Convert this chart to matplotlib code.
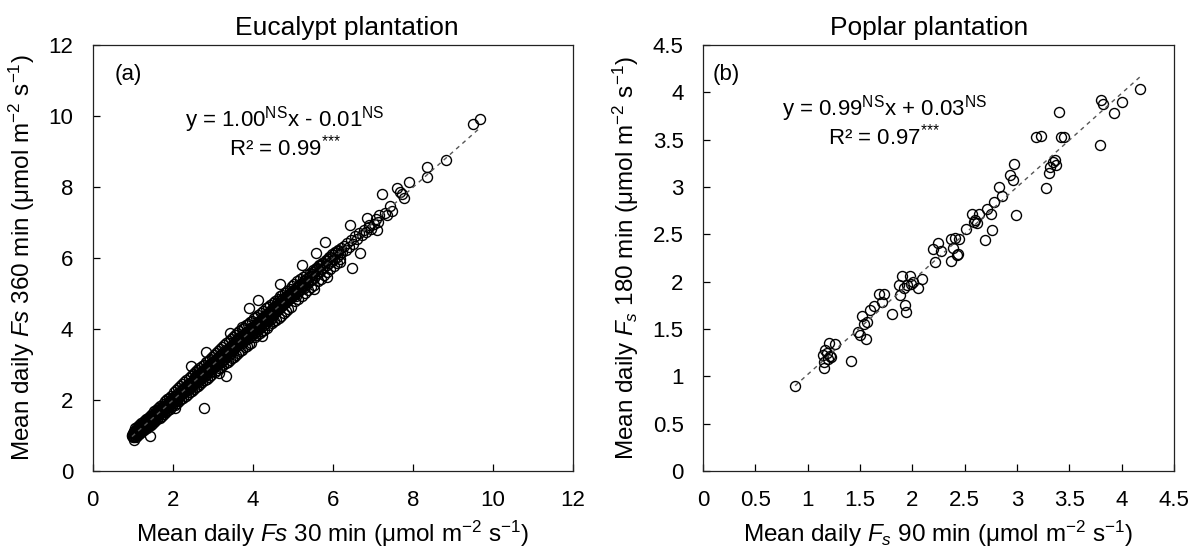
import matplotlib
matplotlib.use("Agg")
import matplotlib.pyplot as plt
import numpy as np
from matplotlib.ticker import FuncFormatter, MultipleLocator

plt.rcParams["font.family"] = ["Liberation Sans", "DejaVu Sans"]
plt.rcParams["mathtext.fontset"] = "custom"
plt.rcParams["mathtext.rm"] = "Liberation Sans"
plt.rcParams["mathtext.it"] = "Liberation Sans:italic"
plt.rcParams["mathtext.bf"] = "Liberation Sans:bold"

# Eucalypt plantation: mean daily Fs, 30 min (x) vs 360 min (y)
eu_x = [
    0.98, 1.00, 1.01, 1.02, 1.03, 1.04, 1.05, 1.06, 1.07, 1.08,
    1.09, 1.10, 1.11, 1.12, 1.13, 1.14, 1.15, 1.16, 1.17, 1.18,
    1.19, 1.20, 1.21, 1.22, 1.23, 1.24, 1.25, 1.26, 1.27, 1.28,
    1.29, 1.30, 1.31, 1.32, 1.33, 1.34, 1.35, 1.36, 1.37, 1.38,
    1.39, 1.40, 1.41, 1.42, 1.43, 1.44, 1.45, 1.46, 1.48, 1.49,
    1.50, 1.51, 1.52, 1.53, 1.54, 1.55, 1.56, 1.57, 1.58, 1.59,
    1.60, 1.62, 1.63, 1.64, 1.66, 1.67, 1.68, 1.70, 1.71, 1.72,
    1.74, 1.75, 1.77, 1.78, 1.80, 1.81, 1.83, 1.84, 1.86, 1.88,
    1.89, 1.91, 1.92, 1.94, 1.96, 1.97, 1.99, 2.01, 2.03, 2.05,
    2.07, 2.09, 2.11, 2.13, 2.15, 2.17, 2.19, 2.21, 2.24, 2.26,
    2.28, 2.30, 2.33, 2.35, 2.37, 2.40, 2.42, 2.44, 2.47, 2.49,
    2.50, 2.51, 2.53, 2.54, 2.55, 2.57, 2.58, 2.60, 2.61, 2.62,
    2.64, 2.65, 2.67, 2.68, 2.70, 2.71, 2.73, 2.74, 2.76, 2.77,
    2.79, 2.80, 2.82, 2.83, 2.85, 2.86, 2.88, 2.89, 2.91, 2.92,
    2.94, 2.95, 2.97, 2.98, 3.00, 3.01, 3.03, 3.04, 3.06, 3.07,
    3.09, 3.10, 3.12, 3.13, 3.15, 3.16, 3.18, 3.19, 3.21, 3.22,
    3.24, 3.25, 3.27, 3.28, 3.30, 3.31, 3.33, 3.34, 3.36, 3.37,
    3.39, 3.40, 3.42, 3.43, 3.45, 3.46, 3.47, 3.48, 3.49, 3.50,
    3.51, 3.52, 3.54, 3.55, 3.57, 3.58, 3.60, 3.61, 3.63, 3.64,
    3.66, 3.67, 3.69, 3.70, 3.72, 3.73, 3.75, 3.76, 3.78, 3.79,
    3.81, 3.82, 3.84, 3.85, 3.87, 3.88, 3.90, 3.91, 3.93, 3.94,
    3.96, 3.97, 3.99, 4.00, 4.02, 4.03, 4.05, 4.06, 4.08, 4.09,
    4.11, 4.12, 4.14, 4.15, 4.17, 4.18, 4.20, 4.21, 4.23, 4.24,
    4.26, 4.27, 4.29, 4.30, 4.32, 4.33, 4.35, 4.36, 4.38, 4.39,
    4.41, 4.42, 4.44, 4.45, 4.46, 4.47, 4.48, 4.49, 4.50, 4.50,
    4.52, 4.54, 4.55, 4.57, 4.59, 4.60, 4.62, 4.64, 4.66, 4.67,
    4.69, 4.71, 4.73, 4.75, 4.77, 4.79, 4.81, 4.83, 4.85, 4.87,
    4.89, 4.91, 4.93, 4.95, 4.97, 4.99, 5.01, 5.03, 5.05, 5.07,
    5.09, 5.11, 5.13, 5.15, 5.17, 5.19, 5.21, 5.23, 5.25, 5.27,
    5.29, 5.31, 5.33, 5.35, 5.37, 5.40, 5.42, 5.44, 5.47, 5.49,
    5.51, 5.54, 5.56, 5.59, 5.61, 5.64, 5.66, 5.69, 5.71, 5.74,
    5.76, 5.79, 5.82, 5.85, 5.88, 5.91, 5.94, 5.97, 6.00, 6.03,
    6.06, 6.10, 6.13, 6.17, 6.20, 6.24, 6.28, 6.32, 6.36, 6.40,
    6.45, 6.50, 6.55, 6.60, 6.66, 6.72, 6.78, 6.84, 6.90, 6.96,
    7.02, 7.08, 7.14, 7.30, 7.36,
    9.68, 9.51, 8.82, 8.36, 8.36, 7.91, 7.60, 7.72, 7.67, 7.77,
    7.24, 7.48, 7.44, 7.10, 7.15, 6.86, 6.91, 6.43, 6.67, 6.48,
    6.17, 5.81, 5.86, 5.59, 5.23, 5.52, 4.69, 4.49, 4.13, 3.90,
    4.23, 3.74, 3.42, 3.32, 3.16, 2.84, 2.46, 2.78, 2.05, 1.42,
    1.04, 0.98, 1.69,
    1.05, 1.08, 1.11, 1.13, 1.16, 1.19, 1.21, 1.24, 1.27, 1.29,
    1.32, 1.35, 1.37, 1.40, 1.43, 1.45, 1.48, 1.51, 1.53, 1.56,
    1.59, 1.61, 1.64, 1.67, 1.69, 1.72, 1.75, 1.77, 1.80, 1.83,
    1.85, 1.88, 1.91, 1.93, 1.96, 1.99, 1.02, 1.07, 1.12, 1.18,
    1.23, 1.28, 1.34, 1.39, 1.44, 1.50, 1.55, 1.61, 1.66, 1.71,
    2.02, 2.05, 2.08, 2.10, 2.13, 2.16, 2.18, 2.21, 2.24, 2.26,
    2.29, 2.32, 2.34, 2.37, 2.40, 2.42, 2.45, 2.48, 2.50, 2.53,
    2.56, 2.58, 2.61, 2.64, 2.66, 2.69, 2.72, 2.74, 2.77, 2.80,
    2.82, 2.85, 2.88, 2.90, 2.93, 2.96, 2.98, 2.06, 2.14, 2.22,
    2.31, 2.39, 2.47, 2.55, 2.63, 2.71, 2.79, 2.87, 2.95, 2.99,
    3.02, 3.05, 3.08, 3.10, 3.13, 3.16, 3.18, 3.21, 3.24, 3.26,
    3.29, 3.32, 3.34, 3.37, 3.40, 3.42, 3.45, 3.48, 3.50, 3.53,
    3.56, 3.58, 3.61, 3.64, 3.66, 3.69, 3.72, 3.74, 3.77, 3.80,
    3.82, 3.85, 3.88, 3.90, 3.93, 3.96, 3.98, 3.06, 3.14, 3.22,
    3.31, 3.39, 3.47, 3.55, 3.63, 3.71, 3.79, 3.87, 3.95, 3.99,
    4.02, 4.05, 4.08, 4.11, 4.14, 4.17, 4.20, 4.23, 4.26, 4.29,
    4.32, 4.35, 4.38, 4.41, 4.44, 4.47, 4.50, 4.53, 4.56, 4.59,
    4.62, 4.65, 4.68, 4.71, 4.74, 4.77, 4.80, 4.83, 4.86, 4.89,
    4.92, 4.95, 4.98, 4.07, 4.16, 4.25, 4.34, 4.43, 4.52, 4.61,
    4.70, 4.79, 4.88, 4.97, 4.99,
    5.02, 5.06, 5.10, 5.14, 5.18, 5.22, 5.26, 5.30, 5.34, 5.38,
    5.42, 5.46, 5.50, 5.54, 5.58, 5.62, 5.66, 5.70, 5.74, 5.78,
    5.82, 5.86, 5.90, 5.94, 5.98, 6.02, 6.06, 6.10, 6.14, 6.18,
    1.31, 1.38, 1.46, 1.54, 1.62, 1.70, 1.78, 1.86, 1.94, 2.02,
    2.10, 2.18, 2.26, 2.34, 2.42, 2.50, 2.58, 2.66, 2.74, 2.82,
    2.90, 2.98, 3.06, 3.14, 3.22, 3.30, 3.38, 3.46, 3.54, 3.62,
    3.70, 3.78, 3.86, 3.94, 4.02, 4.10, 4.18, 4.26, 4.34, 4.42,
    4.50, 4.58, 4.66, 4.74, 4.82, 4.90, 4.98, 5.06, 5.14, 5.22,
    1.34, 1.42, 1.50, 1.58, 1.66, 1.74, 1.82, 1.90, 1.98, 2.06,
    2.14, 2.22, 2.30, 2.38, 2.46, 2.54, 2.62, 2.70, 2.78, 2.86,
    2.94, 3.02, 3.10, 3.18, 3.26, 3.34, 3.42, 3.50, 3.58, 3.66,
    3.74, 3.82, 3.90, 3.98, 4.06, 4.14, 4.22, 4.30, 4.38, 4.46,
    4.54, 4.62, 4.70, 4.78, 4.86, 4.94, 5.02, 5.10, 5.18, 5.30,
]
eu_y = [
    1.02, 0.97, 1.08, 0.95, 1.05, 1.12, 0.99, 1.10, 1.03, 1.15,
    1.06, 1.01, 1.18, 1.09, 1.14, 1.04, 1.22, 1.11, 1.16, 1.08,
    1.24, 1.13, 1.19, 1.27, 1.17, 1.21, 1.30, 1.18, 1.25, 1.33,
    1.22, 1.36, 1.28, 1.24, 1.39, 1.31, 1.27, 1.42, 1.34, 1.30,
    1.45, 1.36, 1.41, 1.33, 1.48, 1.39, 1.44, 1.52, 1.41, 1.47,
    1.55, 1.46, 1.58, 1.50, 1.62, 1.53, 1.49, 1.60, 1.65, 1.54,
    1.57, 1.68, 1.59, 1.71, 1.62, 1.75, 1.64, 1.67, 1.78, 1.70,
    1.66, 1.81, 1.73, 1.84, 1.76, 1.70, 1.87, 1.79, 1.83, 1.91,
    1.82, 1.95, 1.87, 1.90, 1.99, 1.86, 2.03, 1.96, 2.08, 1.99,
    2.04, 2.12, 2.01, 2.15, 2.09, 2.20, 2.12, 2.16, 2.28, 2.19,
    2.23, 2.35, 2.25, 2.30, 2.42, 2.31, 2.38, 2.48, 2.40, 2.45,
    2.55, 2.42, 2.60, 2.48, 2.66, 2.51, 2.63, 2.57, 2.70, 2.52,
    2.68, 2.60, 2.74, 2.58, 2.65, 2.80, 2.69, 2.62, 2.84, 2.72,
    2.75, 2.68, 2.90, 2.78, 2.81, 2.73, 2.95, 2.84, 2.88, 2.79,
    3.02, 2.90, 2.93, 2.86, 3.08, 2.96, 3.00, 2.92, 3.12, 3.03,
    3.05, 2.98, 3.18, 3.09, 3.11, 3.04, 3.24, 3.14, 3.17, 3.10,
    3.30, 3.20, 3.22, 3.15, 3.36, 3.26, 3.29, 3.21, 3.42, 3.32,
    3.35, 3.27, 3.48, 3.38, 3.40, 3.33, 3.53, 3.44, 3.37, 3.46,
    3.58, 3.44, 3.62, 3.50, 3.66, 3.53, 3.70, 3.56, 3.61, 3.75,
    3.59, 3.72, 3.64, 3.80, 3.68, 3.62, 3.84, 3.70, 3.77, 3.66,
    3.90, 3.75, 3.80, 3.71, 3.95, 3.82, 3.86, 3.76, 4.00, 3.88,
    3.91, 3.83, 4.06, 3.94, 3.97, 3.88, 4.12, 4.00, 4.03, 3.93,
    4.18, 4.06, 4.09, 3.99, 4.24, 4.12, 4.15, 4.05, 4.30, 4.18,
    4.21, 4.10, 4.36, 4.24, 4.27, 4.16, 4.42, 4.30, 4.33, 4.22,
    4.48, 4.36, 4.39, 4.28, 4.54, 4.44, 4.35, 4.50, 4.40, 4.58,
    4.60, 4.45, 4.66, 4.51, 4.58, 4.72, 4.55, 4.68, 4.62, 4.78,
    4.60, 4.74, 4.85, 4.68, 4.80, 4.72, 4.90, 4.76, 4.86, 4.95,
    4.82, 4.98, 4.88, 5.02, 4.92, 5.06, 4.95, 5.10, 5.00, 4.93,
    5.15, 5.04, 5.20, 5.08, 5.12, 5.26, 5.14, 5.30, 5.20, 5.16,
    5.36, 5.24, 5.40, 5.28, 5.32, 5.46, 5.34, 5.50, 5.40, 5.55,
    5.60, 5.44, 5.66, 5.52, 5.72, 5.58, 5.78, 5.63, 5.80, 5.68,
    5.86, 5.74, 5.92, 5.80, 5.98, 5.86, 6.04, 5.92, 6.08, 5.96,
    6.14, 6.02, 6.20, 6.10, 6.28, 6.16, 6.34, 6.22, 6.42, 6.30,
    6.50, 6.40, 6.62, 6.55, 6.70, 6.64, 6.80, 6.74, 6.88, 6.82,
    6.96, 7.10, 7.02, 7.28, 7.22,
    9.92, 9.78, 8.76, 8.56, 8.29, 8.13, 7.97, 7.79, 7.87, 7.70,
    7.80, 7.32, 7.47, 6.78, 7.20, 7.12, 6.92, 6.94, 6.15, 5.73,
    5.88, 6.45, 5.46, 6.13, 5.81, 5.14, 5.26, 4.52, 4.81, 4.59,
    3.80, 4.05, 3.90, 2.68, 2.76, 3.35, 2.96, 1.77, 1.77, 1.00,
    0.87, 0.99, 1.51,
    1.20, 0.96, 1.24, 1.02, 1.30, 1.06, 1.35, 1.12, 1.40, 1.15,
    1.46, 1.22, 1.50, 1.26, 1.56, 1.30, 1.62, 1.36, 1.68, 1.40,
    1.72, 1.46, 1.78, 1.50, 1.84, 1.56, 1.90, 1.60, 1.96, 1.66,
    2.02, 1.72, 2.06, 1.76, 2.12, 1.82, 1.10, 1.14, 1.05, 1.28,
    1.32, 1.20, 1.42, 1.30, 1.52, 1.42, 1.60, 1.55, 1.72, 1.64,
    2.22, 1.86, 2.28, 1.92, 2.34, 1.98, 2.40, 2.02, 2.45, 2.06,
    2.50, 2.12, 2.56, 2.16, 2.62, 2.22, 2.68, 2.26, 2.74, 2.30,
    2.78, 2.36, 2.84, 2.40, 2.90, 2.46, 2.95, 2.50, 3.00, 2.56,
    3.06, 2.60, 3.10, 2.66, 3.16, 2.70, 3.22, 2.08, 2.20, 2.26,
    2.36, 2.44, 2.52, 2.58, 2.66, 2.74, 2.82, 2.88, 2.98, 3.04,
    3.28, 2.80, 3.32, 2.84, 3.38, 2.90, 3.44, 2.94, 3.50, 2.98,
    3.56, 3.04, 3.60, 3.08, 3.66, 3.14, 3.72, 3.18, 3.78, 3.22,
    3.82, 3.28, 3.88, 3.32, 3.94, 3.38, 4.00, 3.42, 4.04, 3.48,
    4.10, 3.52, 4.14, 3.58, 4.20, 3.62, 4.24, 3.10, 3.16, 3.26,
    3.34, 3.44, 3.50, 3.58, 3.68, 3.74, 3.84, 3.90, 3.98, 4.04,
    4.30, 3.78, 4.34, 3.84, 4.40, 3.88, 4.46, 3.94, 4.52, 3.98,
    4.58, 4.04, 4.62, 4.10, 4.68, 4.16, 4.74, 4.22, 4.80, 4.26,
    4.86, 4.32, 4.92, 4.38, 4.96, 4.44, 5.02, 4.50, 5.08, 4.56,
    5.14, 4.62, 5.20, 4.12, 4.18, 4.28, 4.36, 4.46, 4.54, 4.64,
    4.72, 4.82, 4.90, 5.00, 4.96,
    5.28, 4.80, 5.34, 4.86, 5.40, 4.94, 5.46, 5.02, 5.52, 5.10,
    5.58, 5.18, 5.66, 5.24, 5.72, 5.34, 5.80, 5.42, 5.86, 5.52,
    5.94, 5.60, 6.02, 5.70, 6.10, 5.78, 6.16, 5.86, 6.24, 5.96,
    1.36, 1.33, 1.51, 1.49, 1.67, 1.65, 1.83, 1.81, 1.99, 1.97,
    2.15, 2.13, 2.31, 2.29, 2.47, 2.45, 2.63, 2.61, 2.79, 2.77,
    2.95, 2.93, 3.11, 3.09, 3.27, 3.25, 3.43, 3.41, 3.59, 3.57,
    3.75, 3.73, 3.91, 3.89, 4.07, 4.05, 4.23, 4.21, 4.39, 4.37,
    4.55, 4.53, 4.71, 4.69, 4.87, 4.85, 5.03, 5.01, 5.19, 5.17,
    1.29, 1.47, 1.45, 1.63, 1.61, 1.79, 1.77, 1.95, 1.93, 2.11,
    2.09, 2.27, 2.25, 2.43, 2.41, 2.59, 2.57, 2.75, 2.73, 2.91,
    2.89, 3.07, 3.05, 3.23, 3.21, 3.39, 3.37, 3.55, 3.53, 3.71,
    3.69, 3.87, 3.85, 4.03, 4.01, 4.19, 4.17, 4.35, 4.33, 4.51,
    4.49, 4.67, 4.65, 4.83, 4.81, 4.99, 4.97, 5.15, 5.13, 5.35,
]
eu_slope, eu_icpt = 1.00, -0.01

# Poplar plantation: mean daily Fs, 90 min (x) vs 180 min (y)
po_x = [0.88, 1.16, 1.16, 1.18, 1.20, 1.22, 1.26, 1.15, 1.19, 1.17, 1.21, 1.41,
        1.48, 1.50, 1.52, 1.54, 1.56, 1.57, 1.60, 1.63, 1.68, 1.73, 1.71, 1.81,
        1.87, 1.90, 1.92, 1.93, 1.94, 1.98, 2.01, 2.05, 2.09, 1.88, 1.95, 1.99,
        2.20, 2.22, 2.25, 2.27, 2.37, 2.37, 2.39, 2.41, 2.44, 2.45, 2.43, 2.51,
        2.57, 2.59, 2.62, 2.64, 2.60, 2.69, 2.71, 2.75, 2.76, 2.78, 2.83, 2.86,
        2.93, 2.96, 2.97, 2.99, 3.18, 3.23, 3.28, 3.31, 3.32, 3.34, 3.36, 3.37,
        3.40, 3.42, 3.45, 3.79, 3.80, 3.82, 3.93, 4.00, 4.18]
po_y = [0.90, 1.09, 1.15, 1.25, 1.35, 1.20, 1.34, 1.23, 1.18, 1.28, 1.22, 1.16,
        1.47, 1.44, 1.64, 1.55, 1.39, 1.57, 1.70, 1.74, 1.87, 1.87, 1.79, 1.66,
        1.97, 2.06, 1.93, 1.75, 1.68, 2.06, 2.00, 1.93, 2.03, 1.86, 1.96, 1.98,
        2.35, 2.21, 2.41, 2.32, 2.22, 2.45, 2.36, 2.46, 2.29, 2.45, 2.28, 2.56,
        2.71, 2.63, 2.62, 2.72, 2.65, 2.44, 2.77, 2.71, 2.55, 2.84, 3.00, 2.91,
        3.13, 3.07, 3.24, 2.70, 3.53, 3.54, 2.99, 3.15, 3.21, 3.26, 3.29, 3.23,
        3.79, 3.53, 3.53, 3.44, 3.92, 3.88, 3.78, 3.90, 4.04]
po_slope, po_icpt = 0.99, 0.03

fig = plt.figure(figsize=(11.95, 5.52), dpi=100)
ax1 = fig.add_axes([0.0776, 0.1467, 0.4019, 0.7717])
ax2 = fig.add_axes([0.5883, 0.1467, 0.3941, 0.7717])

fs_tick = 16
fs_lab = 17.5
fs_eq = 16


def style(ax, lim, step):
    ax.set_xlim(0, lim)
    ax.set_ylim(0, lim)
    ax.xaxis.set_major_locator(MultipleLocator(step))
    ax.yaxis.set_major_locator(MultipleLocator(step))
    fmt = FuncFormatter(lambda v, _: f"{v:g}")
    ax.xaxis.set_major_formatter(fmt)
    ax.yaxis.set_major_formatter(fmt)
    ax.tick_params(direction="in", length=5, width=0.9, labelsize=fs_tick,
                   top=False, right=False)
    ax.tick_params(axis="x", pad=14)
    ax.tick_params(axis="y", pad=14)
    for sp in ax.spines.values():
        sp.set_linewidth(0.9)
        sp.set_color("#222222")


def scatter_fit(ax, xs, ys, slope, icpt):
    xs = np.array(xs)
    ax.plot(xs, ys, "o", mfc="none", mec="black", ms=7.2, mew=1.0, zorder=3)
    xl = np.array([xs.min(), xs.max()])
    ax.plot(xl, slope * xl + icpt, color="#555555", lw=1.0,
            ls=(0, (3, 3)), zorder=4)


def equation(ax, x, y, eq, r2):
    ax.text(x, y, eq, transform=ax.transAxes, fontsize=fs_eq,
            ha="center", va="center")
    ax.text(x, y - 0.065, r2, transform=ax.transAxes, fontsize=fs_eq,
            ha="center", va="center")


scatter_fit(ax1, eu_x, eu_y, eu_slope, eu_icpt)
style(ax1, 12, 2)
ax1.set_title("Eucalypt plantation", fontsize=19, x=0.53, pad=7)
ax1.set_xlabel(r"Mean daily $\it{Fs}$ 30 min (μmol m$^{-2}$ s$^{-1}$)",
               fontsize=fs_lab, labelpad=5)
ax1.set_ylabel(r"Mean daily $\it{Fs}$ 360 min (μmol m$^{-2}$ s$^{-1}$)",
               fontsize=fs_lab, labelpad=8)
ax1.text(0.045, 0.93, "(a)", transform=ax1.transAxes, fontsize=fs_eq,
         va="center", ha="left")
equation(ax1, 0.40, 0.825, r"y = 1.00$^{\rm NS}$x - 0.01$^{\rm NS}$",
         r"R² = 0.99$^{{*}{*}{*}}$")

scatter_fit(ax2, po_x, po_y, po_slope, po_icpt)
style(ax2, 4.5, 0.5)
ax2.set_title("Poplar plantation", fontsize=19, x=0.48, pad=7)
ax2.set_xlabel(r"Mean daily $F_s$ 90 min (μmol m$^{-2}$ s$^{-1}$)",
               fontsize=fs_lab, labelpad=5)
ax2.set_ylabel(r"Mean daily $F_s$ 180 min (μmol m$^{-2}$ s$^{-1}$)",
               fontsize=fs_lab, labelpad=8)
ax2.text(0.02, 0.93, "(b)", transform=ax2.transAxes, fontsize=fs_eq,
         va="center", ha="left")
equation(ax2, 0.385, 0.85, r"y = 0.99$^{\rm NS}$x + 0.03$^{\rm NS}$",
         r"R² = 0.97$^{{*}{*}{*}}$")

fig.savefig("out.png", dpi=100, facecolor="white")
